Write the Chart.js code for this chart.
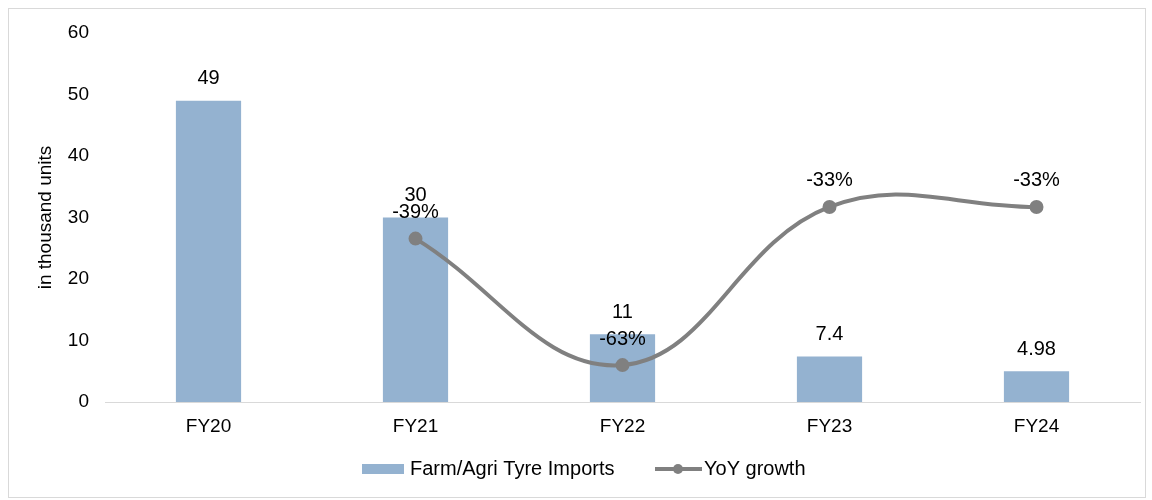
<!DOCTYPE html>
<html>
<head>
<meta charset="utf-8">
<script src="https://cdn.jsdelivr.net/npm/chart.js@4.4.0/dist/chart.umd.min.js"></script>
<style>
    html, body { margin: 0; padding: 0; background: #fff; }
    #wrap { width: 1152px; height: 500px; }
</style>
</head>
<body>
<div id="wrap"><canvas id="chartcanvas" width="1152" height="500"></canvas></div>
<script>
// chart values
var years = ["FY20", "FY21", "FY22", "FY23", "FY24"];
var imports = [49, 30, 11, 7.4, 4.98];
var importLabels = ["49", "30", "11", "7.4", "4.98"];
var growth = [null, -39, -63, -33, -33];
var yTicks = [0, 10, 20, 30, 40, 50, 60];

var barColor = "#94b2d0";
var lineColor = "#808080";
var font = "'Liberation Sans', Arial, sans-serif";

// frame, value labels and legend drawn on the canvas
var extras = {
    id: "extras",
    beforeDraw: function(chart) {
        var c = chart.ctx;
        c.save();
        c.strokeStyle = "#d9d9d9";
        c.lineWidth = 1;
        c.strokeRect(8.5, 8.5, 1137, 489);
        c.restore();
    },
    afterDatasetsDraw: function(chart) {
        var c = chart.ctx;
        c.save();
        c.font = "20px " + font;
        c.fillStyle = "#000";
        c.textAlign = "center";
        c.textBaseline = "middle";
        // dataset 1 = bars, dataset 0 = line
        chart.getDatasetMeta(1).data.forEach(function(bar, i) {
            c.fillText(importLabels[i], bar.x, bar.y - 22);
        });
        chart.getDatasetMeta(0).data.forEach(function(pt, i) {
            if (growth[i] === null) return;
            c.fillText(growth[i] + "%", pt.x, pt.y - 26);
        });

        // legend
        var ly = 469;
        c.fillStyle = barColor;
        c.fillRect(362, ly - 5, 42, 10);
        c.fillStyle = "#000";
        c.textAlign = "left";
        c.fillText("Farm/Agri Tyre Imports", 410, ly);
        c.strokeStyle = lineColor;
        c.lineWidth = 4;
        c.beginPath();
        c.moveTo(655, ly);
        c.lineTo(702, ly);
        c.stroke();
        c.fillStyle = lineColor;
        c.beginPath();
        c.arc(678, ly, 5, 0, Math.PI * 2);
        c.fill();
        c.fillStyle = "#000";
        c.fillText("YoY growth", 704, ly);
        c.restore();
    }
};

var ctx = document.getElementById("chartcanvas");
var chart = new Chart(ctx, {
    type: "bar",
    data: {
        labels: years,
        datasets: [{
            type: "line",
            label: "YoY growth",
            data: growth,
            yAxisID: "y2",
            borderColor: lineColor,
            backgroundColor: lineColor,
            borderWidth: 4,
            pointRadius: 5,
            pointHoverRadius: 5,
            tension: 0.4,
            fill: false,
            order: 0
        }, {
            label: "Farm/Agri Tyre Imports",
            data: imports,
            backgroundColor: barColor,
            categoryPercentage: 1,
            barPercentage: 0.315,
            order: 1
        }]
    },
    options: {
        responsive: false,
        animation: false,
        layout: { padding: { top: 33, right: 12, bottom: 58, left: 0 } },
        plugins: {
            legend: { display: false },
            tooltip: { enabled: false }
        },
        scales: {
            x: {
                grid: { display: false, drawTicks: false },
                border: { display: true, color: "#d9d9d9", width: 1 },
                ticks: { color: "#000", font: { family: font, size: 19 }, padding: 13 },
                afterFit: function(s) { s.height = 40; }
            },
            y: {
                min: 0,
                max: 60,
                grid: { display: false, drawTicks: false },
                border: { display: false },
                afterBuildTicks: function(s) {
                    s.ticks = yTicks.map(function(v) { return { value: v }; });
                },
                ticks: { color: "#000", font: { family: font, size: 19 }, padding: 16 },
                title: {
                    display: true,
                    text: "in thousand units",
                    color: "#000",
                    font: { family: font, size: 19 },
                    padding: { top: 34, bottom: 0 }
                },
                afterFit: function(s) { s.width = 105; }
            },
            y2: {
                display: false,
                min: -70,
                max: 0
            }
        }
    },
    plugins: [extras]
});
</script>
</body>
</html>
